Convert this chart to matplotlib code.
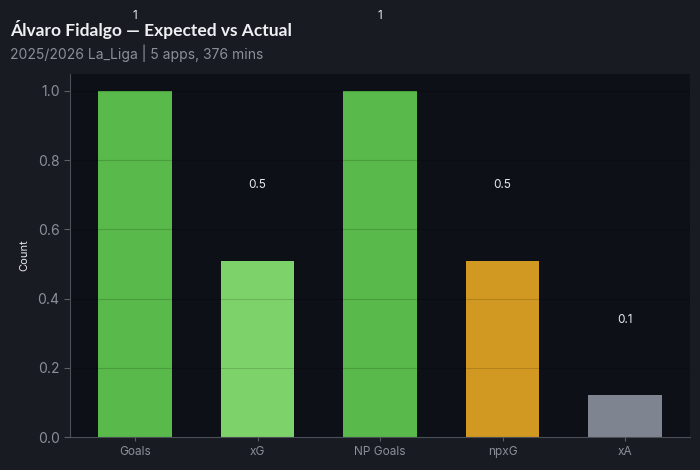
import matplotlib
matplotlib.use("Agg")
import matplotlib.pyplot as plt

categories = ["Goals", "xG", "NP Goals", "npxG", "xA"]
values = [1.0, 0.51, 1.0, 0.51, 0.12]
labels = ["1", "0.5", "1", "0.5", "0.1"]
colors = ["#59b94a", "#7dd36a", "#59b94a", "#d29922", "#7f8590"]

title = "Álvaro Fidalgo — Expected vs Actual"
subtitle = "2025/2026 La_Liga | 5 apps, 376 mins"

fig_bg = "#181b22"
ax_bg = "#0d1017"

fig = plt.figure(figsize=(7, 4.7), dpi=100, facecolor=fig_bg)
ax = fig.add_axes([0.1, 0.0702, 0.886, 0.773], facecolor=ax_bg)

x = list(range(len(categories)))
ax.bar(x, values, width=0.6, color=colors, zorder=2)

for xi, v, lab in zip(x, values, labels):
    ax.text(xi, v + 0.2, lab, ha="center", va="bottom", color="#e6e8eb",
            fontsize=8.5, family="Inter", zorder=4)

ax.set_xticks(x)
ax.set_xticklabels(categories)
ax.set_ylim(0, 1.05)
ax.set_yticks([0.0, 0.2, 0.4, 0.6, 0.8, 1.0])
ax.set_yticklabels(["0.0", "0.2", "0.4", "0.6", "0.8", "1.0"])

ax.tick_params(axis="x", colors="#5a5f68", labelcolor="#8b8f98", labelsize=8.5, length=3)
ax.tick_params(axis="y", colors="#5a5f68", labelcolor="#8b8f98", labelsize=10, length=4)
for lab in ax.get_xticklabels() + ax.get_yticklabels():
    lab.set_family("Inter")

ax.set_ylabel("Count", color="#e6e8eb", fontsize=8, family="Inter", labelpad=6)

ax.grid(axis="y", color="#000000", alpha=0.15, linewidth=0.8, zorder=3)
ax.set_axisbelow(False)

for s in ["top", "right"]:
    ax.spines[s].set_visible(False)
for s in ["left", "bottom"]:
    ax.spines[s].set_color("#4a4f58")

fig.text(0.014, 0.937, title, color="#eef0f3", fontsize=12.5, fontweight="bold",
         family="Lato", ha="left", va="center")
fig.text(0.014, 0.887, subtitle, color="#8b8f98", fontsize=10, family="Inter",
         ha="left", va="center")

fig.savefig("out.png", dpi=100, facecolor=fig_bg)
